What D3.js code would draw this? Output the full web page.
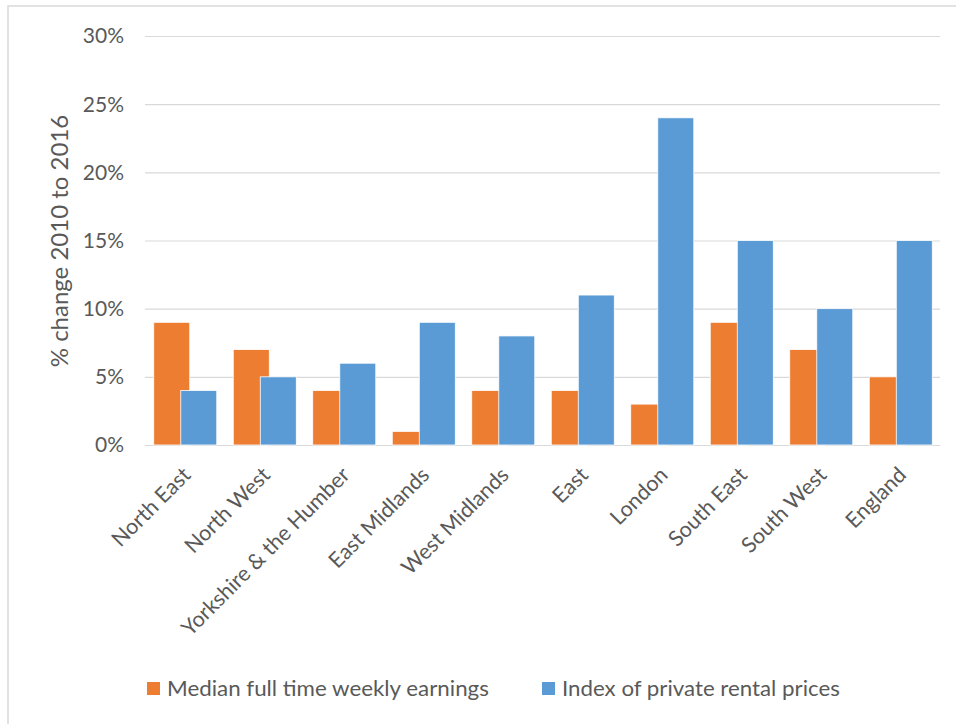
<!DOCTYPE html>
<html>
<head>
<meta charset="utf-8">
<script src="https://cdn.jsdelivr.net/npm/d3@7"></script>
<style>
  html, body { margin: 0; padding: 0; background: #fff; }
  svg { display: block; }
  text { font-family: Lato, "Open Sans", sans-serif; fill: #595959; }
</style>
</head>
<body>
<svg id="chart" width="956" height="724"></svg>
<script>
const categories = ["North East", "North West", "Yorkshire & the Humber", "East Midlands", "West Midlands", "East", "London", "South East", "South West", "England"];
const earnings = [9, 7, 4, 1, 4, 4, 3, 9, 7, 5];
const rental = [4, 5, 6, 9, 8, 11, 24, 15, 10, 15];
const seriesNames = ["Median full time weekly earnings", "Index of private rental prices"];
const seriesColors = ["#ED7D31", "#5B9BD5"];
const yTicks = [0, 5, 10, 15, 20, 25, 30];

(function () {
const svg = d3.select("#chart");
svg.append("rect").attr("x", 0).attr("y", 0).attr("width", 956).attr("height", 724).attr("fill", "#fff");
svg.append("rect").attr("x", 8).attr("y", 6).attr("width", 970).attr("height", 740)
  .attr("fill", "none").attr("stroke", "#d9d9d9").attr("stroke-width", 1.5);

const pLeft = 145, pRight = 940, pTop = 36, pBottom = 445;
const x = d3.scaleBand().domain(categories).range([pLeft, pRight]).padding(0);
const y = d3.scaleLinear().domain([0, 30]).range([pBottom, pTop]);

// gridlines
svg.append("g").selectAll("line").data(yTicks).join("line")
  .attr("x1", pLeft).attr("x2", pRight)
  .attr("y1", d => y(d) + 0.5).attr("y2", d => y(d) + 0.5)
  .attr("stroke", "#d9d9d9").attr("stroke-width", 1.2);

// y tick labels
svg.append("g").selectAll("text").data(yTicks).join("text")
  .attr("x", 124).attr("y", d => y(d))
  .attr("dy", "0.35em").attr("text-anchor", "end")
  .style("font-size", "21px")
  .text(d => d + "%");

// y title
svg.append("text")
  .attr("transform", `translate(68,241) rotate(-90)`)
  .attr("text-anchor", "middle")
  .style("font-size", "24px")
  .text("% change 2010 to 2016");

const bw = x.bandwidth();
const barW = bw * 0.453;
const offs = [-bw * 0.39, -bw * 0.05];
const data = [earnings, rental];

data.forEach((vals, si) => {
  svg.append("g").selectAll("rect").data(categories).join("rect")
    .attr("x", (c) => x(c) + bw / 2 + offs[si])
    .attr("width", barW)
    .attr("y", (c, i) => y(vals[i]))
    .attr("height", (c, i) => y(0) - y(vals[i]))
    .attr("fill", seriesColors[si])
    .attr("stroke", "#fff").attr("stroke-width", 0.8);
});

// x labels
svg.append("g").selectAll("text").data(categories).join("text")
  .attr("transform", c => `translate(${x(c) + bw / 2 + 2},${471}) rotate(-45)`)
  .attr("text-anchor", "end")
  .attr("dy", "0.35em")
  .style("font-size", "21.5px")
  .text(c => c);

// legend
const legX = [147, 542];
const legW = [322, 278];
seriesNames.forEach((n, i) => {
  svg.append("rect").attr("x", legX[i]).attr("y", 682).attr("width", 13).attr("height", 13).attr("fill", seriesColors[i]);
  const t = svg.append("text").attr("x", 0).attr("y", 0)
    .style("font-size", "21px").text(n);
  const len = t.node().getComputedTextLength();
  const s = len > 0 ? legW[i] / len : 1;
  t.attr("transform", `translate(${legX[i] + 20},696) scale(${s},1)`);
});
})();
</script>
</body>
</html>
